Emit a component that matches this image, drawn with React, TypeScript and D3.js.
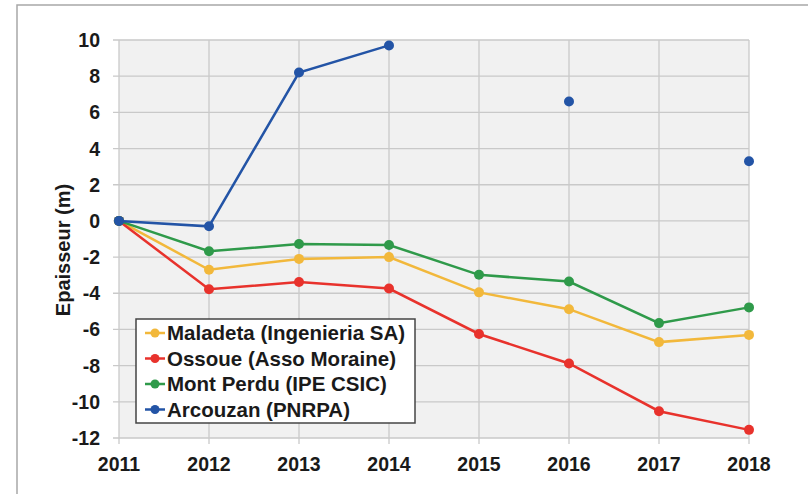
import React from 'react';
import * as d3 from 'd3';

const years = [2011, 2012, 2013, 2014, 2015, 2016, 2017, 2018];
const yTicks = [10, 8, 6, 4, 2, 0, -2, -4, -6, -8, -10, -12];

const maladeta = [0, -2.7, -2.1, -2.0, -3.95, -4.88, -6.7, -6.3];
const ossoue = [0, -3.78, -3.38, -3.74, -6.25, -7.88, -10.52, -11.55];
const montPerdu = [0, -1.68, -1.28, -1.33, -2.98, -3.35, -5.65, -4.78];
const arcouzan = [0, -0.3, 8.2, 9.7, null, 6.6, null, 3.3];

const series = [
  { name: 'Maladeta (Ingenieria SA)', color: '#f2b83b', values: maladeta },
  { name: 'Ossoue (Asso Moraine)', color: '#e8322c', values: ossoue },
  { name: 'Mont Perdu (IPE CSIC)', color: '#2f9a4a', values: montPerdu },
  { name: 'Arcouzan (PNRPA)', color: '#2354a6', values: arcouzan },
];

const W = 808;
const H = 494;
const margin = { top: 40, right: 59, bottom: 56, left: 119 };
const font = 'Arial, "Liberation Sans", Helvetica, sans-serif';

export default function App() {
  const innerW = W - margin.left - margin.right;
  const innerH = H - margin.top - margin.bottom;

  const x = d3.scaleLinear().domain([2011, 2018]).range([0, innerW]);
  const y = d3.scaleLinear().domain([-12, 10]).range([innerH, 0]);

  const line = d3
    .line<number | null>()
    .defined(d => d !== null)
    .x((d, i) => x(years[i]))
    .y(d => y(d as number));

  return (
    <div style={{ position: 'absolute', left: 0, top: 0 }}>
      <svg width={W} height={H} style={{ display: 'block', background: '#fff' }}>
        <rect x={17} y={5} width={W} height={H} fill="#fff" stroke="#a8a8a8" strokeWidth={1.5} />
        <g transform={`translate(${margin.left},${margin.top})`}>
          <rect width={innerW} height={innerH} fill="#f1f1f1" />
          {yTicks.map(t => (
            <line key={'y' + t} x1={-6} x2={innerW} y1={y(t)} y2={y(t)} stroke="#c9c9c9" strokeWidth={1.3} />
          ))}
          {years.map(yr => (
            <line key={'x' + yr} x1={x(yr)} x2={x(yr)} y1={0} y2={innerH + 6} stroke="#c9c9c9" strokeWidth={1.3} />
          ))}
          {yTicks.map(t => (
            <text
              key={'yl' + t}
              x={-19}
              y={y(t)}
              dy="0.36em"
              textAnchor="end"
              fontFamily={font}
              fontWeight="bold"
              fontSize={19.5}
              fill="#1a1a1a"
            >
              {t}
            </text>
          ))}
          {years.map(yr => (
            <text
              key={'xl' + yr}
              x={x(yr)}
              y={innerH + 33}
              textAnchor="middle"
              fontFamily={font}
              fontWeight="bold"
              fontSize={19.5}
              fill="#1a1a1a"
            >
              {yr}
            </text>
          ))}
          <text
            transform={`translate(${63 - margin.left},${250 - margin.top}) rotate(-90)`}
            textAnchor="middle"
            dy="0.35em"
            fontFamily={font}
            fontWeight="bold"
            fontSize={20}
            fill="#1a1a1a"
          >
            Epaisseur (m)
          </text>
          {series.map(s => (
            <g key={s.name}>
              <path d={line(s.values) || ''} fill="none" stroke={s.color} strokeWidth={2.5} />
              {s.values.map((v, i) =>
                v === null ? null : <circle key={i} cx={x(years[i])} cy={y(v)} r={5} fill={s.color} />
              )}
            </g>
          ))}
        </g>
        <g transform="translate(136,319)">
          <rect width={279} height={104} fill="#fff" stroke="#444" strokeWidth={1.5} />
          {series.map((s, i) => (
            <g key={s.name} transform={`translate(0,${14 + i * 25.5})`}>
              <line x1={9} x2={29} stroke={s.color} strokeWidth={2.5} />
              <circle cx={19} r={4.5} fill={s.color} />
              <text
                x={31}
                dy="0.36em"
                fontFamily={font}
                fontWeight="bold"
                fontSize={20.5}
                fill="#1a1a1a"
              >
                {s.name}
              </text>
            </g>
          ))}
        </g>
      </svg>
    </div>
  );
}
